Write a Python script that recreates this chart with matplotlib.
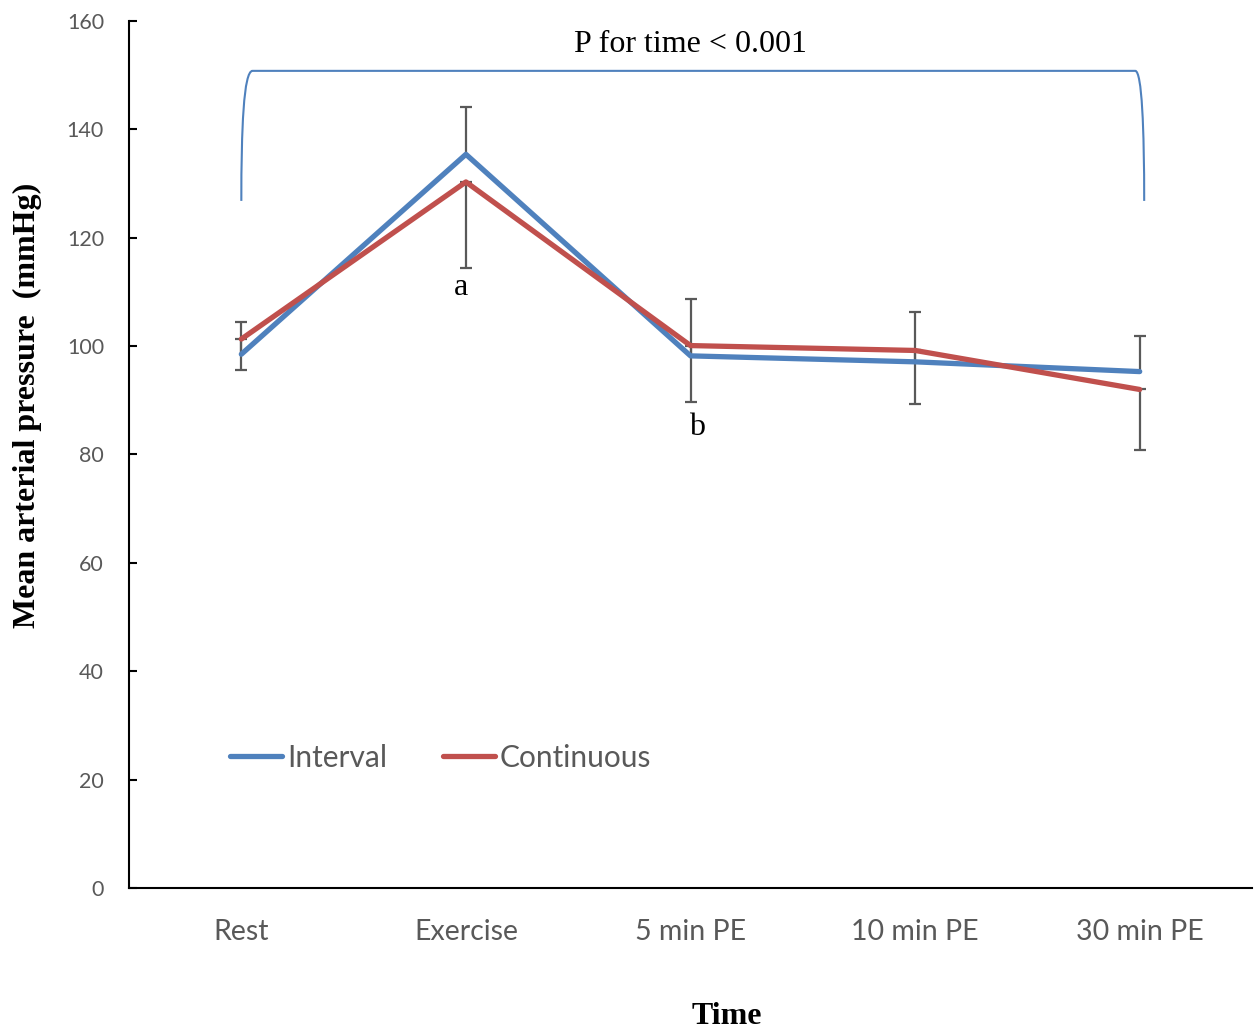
import matplotlib
matplotlib.use('Agg')
import matplotlib.pyplot as plt
import numpy as np
from matplotlib.path import Path
from matplotlib.patches import PathPatch

# Data
categories = ['Rest', 'Exercise', '5 min PE', '10 min PE', '30 min PE']
interval = [98.5, 135.4, 98.2, 97.1, 95.3]
continuous = [101.3, 130.3, 100.1, 99.2, 92.0]
interval_err = [5.9, 8.8, 10.5, 9.2, 6.6]     # upper bars
continuous_err = [5.7, 15.9, 10.4, 9.9, 11.2]  # lower bars

BLUE = '#4F81BD'
RED = '#C0504D'
GRAY = '#595959'
SERIF = 'Liberation Serif'
SANS = 'Lato'

fig = plt.figure(figsize=(12.54, 10.30), dpi=100)
ax = fig.add_axes([0.1029, 0.1379, 0.8955, 0.8417])

x = np.arange(len(categories))
iv = np.array(interval)
cv = np.array(continuous)
ie = np.array(interval_err)
ce = np.array(continuous_err)

# error bars: interval upward, continuous downward
ax.vlines(x, iv, iv + ie, color=GRAY, lw=1.6, zorder=1)
ax.plot(x, iv + ie, ls='none', marker='_', ms=9, mew=1.6, color=GRAY, zorder=1)
ax.errorbar(x, cv, yerr=[ce, np.zeros_like(ce)], fmt='none', ecolor=GRAY,
            elinewidth=1.6, capsize=4.5, capthick=1.6, zorder=1)

ax.plot(x, iv, color=BLUE, lw=3.8, label='Interval', zorder=3,
        solid_capstyle='round')
ax.plot(x, cv, color=RED, lw=3.8, label='Continuous', zorder=3,
        solid_capstyle='round')

ax.set_xlim(-0.5, 4.5)
ax.set_ylim(0, 160)
ax.set_yticks(range(0, 161, 20))
ax.set_xticks(x)
ax.set_xticklabels(categories)

for s in ['top', 'right']:
    ax.spines[s].set_visible(False)
for s in ['left', 'bottom']:
    ax.spines[s].set_linewidth(1.5)
ax.tick_params(axis='y', direction='in', length=6, width=1.5,
               labelsize=15.5, labelcolor=GRAY, pad=18)
ax.tick_params(axis='x', length=0, labelsize=20.5, labelcolor=GRAY, pad=22)
for lab in ax.get_xticklabels() + ax.get_yticklabels():
    lab.set_family(SANS)

fig.text(27 / 1254, 1 - 405 / 1030, 'Mean arterial pressure  (mmHg)',
         family=SERIF, fontweight='bold', fontsize=23, rotation=90,
         ha='center', va='center')
fig.text(727 / 1254, 1 - 1017 / 1030, 'Time', family=SERIF, fontweight='bold',
         fontsize=23, ha='center', va='center')

# bracket for time effect
x0, x1, yb, yt = 0.0, 4.02, 126.8, 150.8
verts = [(x0, yb), (x0, 140), (x0 + 0.01, yt), (x0 + 0.05, yt),
         (x1 - 0.04, yt),
         (x1 - 0.01, yt), (x1, 140), (x1, yb)]
codes = [Path.MOVETO, Path.CURVE4, Path.CURVE4, Path.CURVE4,
         Path.LINETO,
         Path.CURVE4, Path.CURVE4, Path.CURVE4]
ax.add_patch(PathPatch(Path(verts, codes), fill=False, edgecolor=BLUE,
                       lw=1.5, clip_on=False))
ax.text(2.0, 155.6, 'P for time < 0.001', family=SERIF, fontsize=23,
        ha='center', va='center')

ax.text(0.98, 110.8, 'a', family=SERIF, fontsize=23, ha='center', va='center')
ax.text(2.03, 85.0, 'b', family=SERIF, fontsize=23, ha='center', va='center')

leg = ax.legend(loc='center left', bbox_to_anchor=(0.090, 24 / 160), ncol=2,
                frameon=False, handlelength=1.75, handletextpad=0.17,
                columnspacing=1.85, borderaxespad=0, borderpad=0,
                prop={'family': SANS, 'size': 21.5})
for t in leg.get_texts():
    t.set_color(GRAY)

fig.savefig('out.png', dpi=100)
